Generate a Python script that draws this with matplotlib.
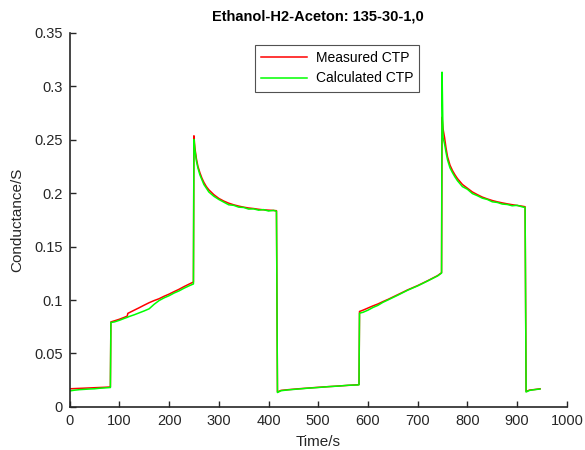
import matplotlib
matplotlib.use("Agg")
import matplotlib.pyplot as plt

# time axis (s), shared by both curves
time_s = [0, 10, 20, 30, 40, 50, 60, 70, 82, 83, 90, 100, 110, 116, 117, 120,
          130, 140, 150, 160, 170, 180, 190, 200, 210, 220, 230, 240, 249, 250,
          252, 255, 258, 262, 266, 270, 275, 280, 290, 300, 310, 320, 330, 340,
          350, 360, 370, 380, 390, 400, 410, 416, 418, 425, 440, 460, 480, 500,
          520, 540, 560, 580, 582, 583, 590, 600, 610, 620, 630, 640, 660, 680,
          700, 720, 740, 748, 749, 751, 754, 757, 760, 765, 770, 775, 780, 790,
          800, 810, 820, 830, 840, 850, 860, 870, 880, 890, 900, 910, 916, 918,
          925, 935, 946]

measured = [0.0170, 0.0172, 0.0174, 0.0176, 0.0178, 0.0180, 0.0182, 0.0184,
            0.0187, 0.0795, 0.0805, 0.0820, 0.0838, 0.0850, 0.0875, 0.0882,
            0.0905, 0.0928, 0.0952, 0.0975, 0.0995, 0.1012, 0.1035, 0.1055,
            0.1078, 0.1100, 0.1125, 0.1148, 0.1168, 0.2535,
            0.2420, 0.2320, 0.2250, 0.2190, 0.2140, 0.2100, 0.2060, 0.2030,
            0.1985, 0.1950, 0.1925, 0.1905, 0.1890, 0.1878, 0.1868, 0.1860,
            0.1855, 0.1848, 0.1843, 0.1840, 0.1837, 0.1835, 0.0140, 0.0155,
            0.0162, 0.0170, 0.0177, 0.0184, 0.0190, 0.0196, 0.0202, 0.0208,
            0.0210, 0.0893, 0.0905, 0.0925, 0.0945, 0.0963, 0.0985, 0.1005,
            0.1050, 0.1095, 0.1135, 0.1180, 0.1228, 0.1255, 0.2710, 0.2600,
            0.2520, 0.2420, 0.2340, 0.2260, 0.2210, 0.2170, 0.2135, 0.2080,
            0.2045, 0.2010, 0.1985, 0.1962, 0.1945, 0.1930, 0.1918, 0.1908,
            0.1899, 0.1891, 0.1884, 0.1877, 0.1872, 0.0145, 0.0158, 0.0163,
            0.0170]

calculated = [0.0150, 0.0157, 0.0162, 0.0165, 0.0168, 0.0170, 0.0175, 0.0178,
              0.0182, 0.0790, 0.0795, 0.0810, 0.0828, 0.0838, 0.0840, 0.0846,
              0.0862, 0.0880, 0.0898, 0.0918, 0.0960, 0.0995, 0.1020, 0.1040,
              0.1065, 0.1085, 0.1110, 0.1132, 0.1150, 0.2500,
              0.2400, 0.2300, 0.2235, 0.2170, 0.2125, 0.2080, 0.2045, 0.2010,
              0.1970, 0.1940, 0.1915, 0.1890, 0.1885, 0.1868, 0.1865, 0.1850,
              0.1852, 0.1840, 0.1845, 0.1832, 0.1838, 0.1830, 0.0135, 0.0152,
              0.0160, 0.0168, 0.0176, 0.0182, 0.0190, 0.0195, 0.0203, 0.0206,
              0.0208, 0.0877, 0.0885, 0.0905, 0.0930, 0.0950, 0.0978, 0.1000,
              0.1045, 0.1092, 0.1132, 0.1178, 0.1225, 0.1252, 0.3130, 0.2520,
              0.2460, 0.2380, 0.2310, 0.2235, 0.2190, 0.2150, 0.2115, 0.2060,
              0.2035, 0.1995, 0.1975, 0.1952, 0.1940, 0.1918, 0.1912, 0.1897,
              0.1893, 0.1881, 0.1885, 0.1871, 0.1865, 0.0140, 0.0155, 0.0162,
              0.0168]

x_ticks = [0, 100, 200, 300, 400, 500, 600, 700, 800, 900, 1000]
y_ticks = [0, 0.05, 0.1, 0.15, 0.2, 0.25, 0.3, 0.35]
y_tick_labels = ["0", "0.05", "0.1", "0.15", "0.2", "0.25", "0.3", "0.35"]


def main():
    plt.rcParams["font.family"] = ["Liberation Sans", "DejaVu Sans"]
    dark = "#262626"
    fig = plt.figure(figsize=(5.85, 4.5), dpi=100)
    ax = fig.add_axes([0.119, 0.0956, 0.850, 0.832])

    ax.plot(time_s, measured, color="#ff0000", lw=1.1, label="Measured CTP")
    ax.plot(time_s, calculated, color="#00ff00", lw=1.1, label="Calculated CTP")

    ax.set_xlim(0, 1000)
    ax.set_ylim(0, 0.35)
    ax.set_xticks(x_ticks)
    ax.set_yticks(y_ticks)
    ax.set_yticklabels(y_tick_labels)
    ax.tick_params(direction="in", length=4, width=1, colors=dark,
                   labelsize=10.5, pad=5)
    for side in ["top", "right"]:
        ax.spines[side].set_visible(False)
    for side in ["left", "bottom"]:
        ax.spines[side].set_color(dark)
        ax.spines[side].set_linewidth(1.2)

    ax.set_title("Ethanol-H2-Aceton: 135-30-1,0", fontsize=10.5,
                 fontweight="bold", pad=9)
    ax.set_xlabel("Time/s", fontsize=11, color=dark, labelpad=5)
    ax.set_ylabel("Conductance/S", fontsize=11, color=dark, labelpad=7)

    leg = ax.legend(loc="upper left", bbox_to_anchor=(0.373, 0.967),
                    fontsize=10, frameon=True, fancybox=False,
                    handlelength=3.3, handletextpad=0.6, borderpad=0.45,
                    labelspacing=0.45, borderaxespad=0)
    leg.get_frame().set_edgecolor(dark)
    leg.get_frame().set_linewidth(0.8)

    fig.savefig("out.png", dpi=100)


if __name__ == "__main__":
    main()
